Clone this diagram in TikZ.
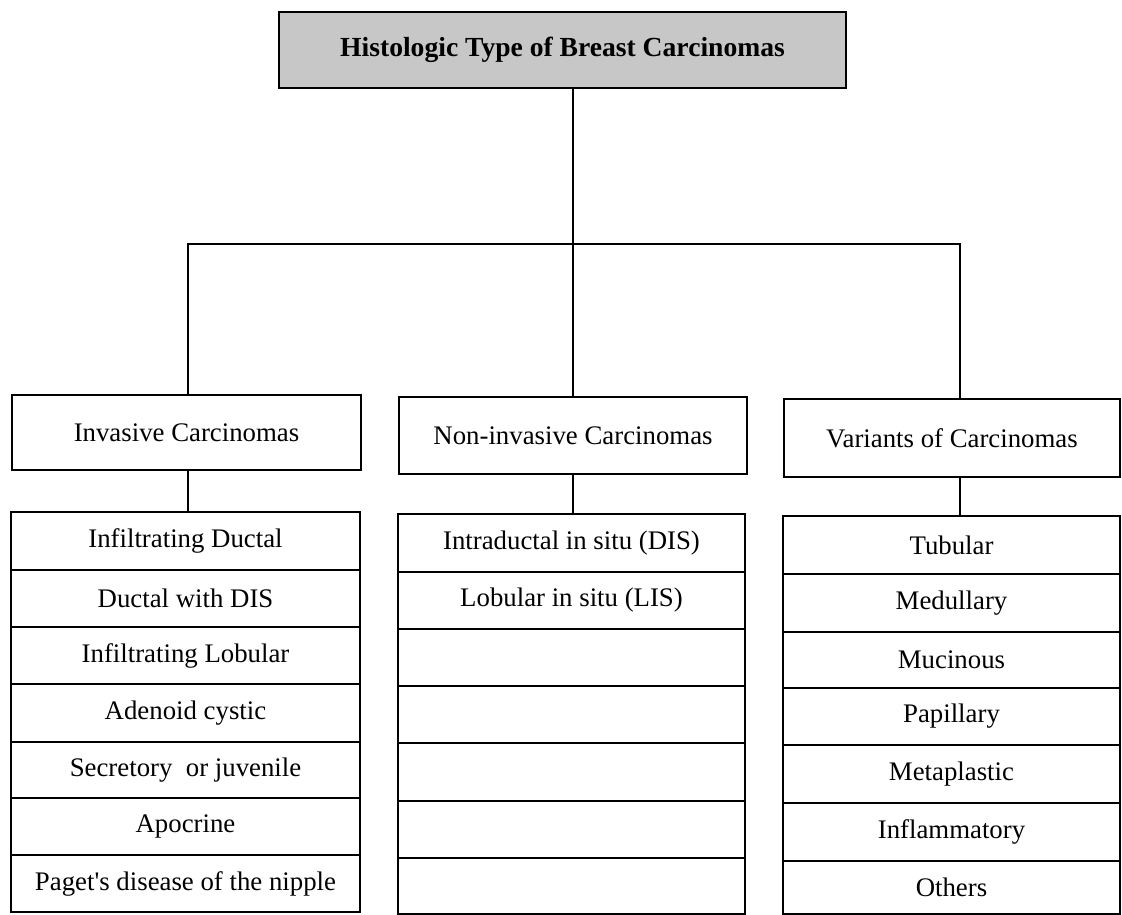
\documentclass[tikz,border=0pt]{standalone}
\usepackage{fontspec}
\setmainfont{Liberation Serif}
\begin{document}
\begin{tikzpicture}[x=1pt,y=-1pt,
  box/.style={draw, line width=2pt, inner sep=0pt, font=\fontsize{26.8}{30}\selectfont},
  conn/.style={line width=2pt}]
\useasboundingbox (0,0) rectangle (1122,915);
% title
\node[box, fill=black!22, minimum width=567pt, minimum height=76pt, font=\fontsize{27.6}{30}\selectfont\bfseries] (title) at (562.5,50) {Histologic Type of Breast Carcinomas};
% level 2
\node[box, minimum width=349pt, minimum height=75pt] (inv) at (186.5,432.5) {Invasive Carcinomas};
\node[box, minimum width=348pt, minimum height=77pt] (non) at (573,435.5) {Non-invasive Carcinomas};
\node[box, minimum width=336pt, minimum height=78pt] (var) at (952,438) {Variants of Carcinomas};
% lists
\foreach \t/\b/\txt [count=\i] in {512/570/Infiltrating Ductal, 570/627/Ductal with DIS, 627/684/Infiltrating Lobular, 684/742/Adenoid cystic, 742/798/Secretory~ or juvenile, 798/855/Apocrine, 855/912/Paget\textquotesingle s disease of the nipple}
  \node[box, minimum width=349pt, minimum height={(\b-\t)*1pt}] (l\i) at (185.5,{(\t+\b)/2}) {\txt};
\foreach \t/\b/\txt [count=\i] in {514/572/Intraductal in situ (DIS), 572/629/Lobular in situ (LIS), 629/686/, 686/743/, 743/801/, 801/858/, 858/914/}
  \node[box, minimum width=347pt, minimum height={(\b-\t)*1pt}] (m\i) at (571.5,{(\t+\b)/2}) {\txt};
\foreach \t/\b/\txt [count=\i] in {516/574/Tubular, 574/632/Medullary, 632/688/Mucinous, 688/745/Papillary, 745/803/Metaplastic, 803/861/Inflammatory, 861/914/Others}
  \node[box, minimum width=337pt, minimum height={(\b-\t)*1pt}] (r\i) at (951.5,{(\t+\b)/2}) {\txt};
% connectors
\coordinate (j) at (573,244);
\coordinate (jl) at (188,244);
\coordinate (jr) at (960,244);
\draw[conn] (title.south -| j) -- (j) -- (j |- non.north);
\draw[conn] (jl |- inv.north) -- (jl) -- (jr) -- (jr |- var.north);
\draw[conn] (jl |- inv.south) -- (jl |- l1.north);
\draw[conn] (j |- non.south) -- (j |- m1.north);
\draw[conn] (jr |- var.south) -- (jr |- r1.north);
\end{tikzpicture}
\end{document}
